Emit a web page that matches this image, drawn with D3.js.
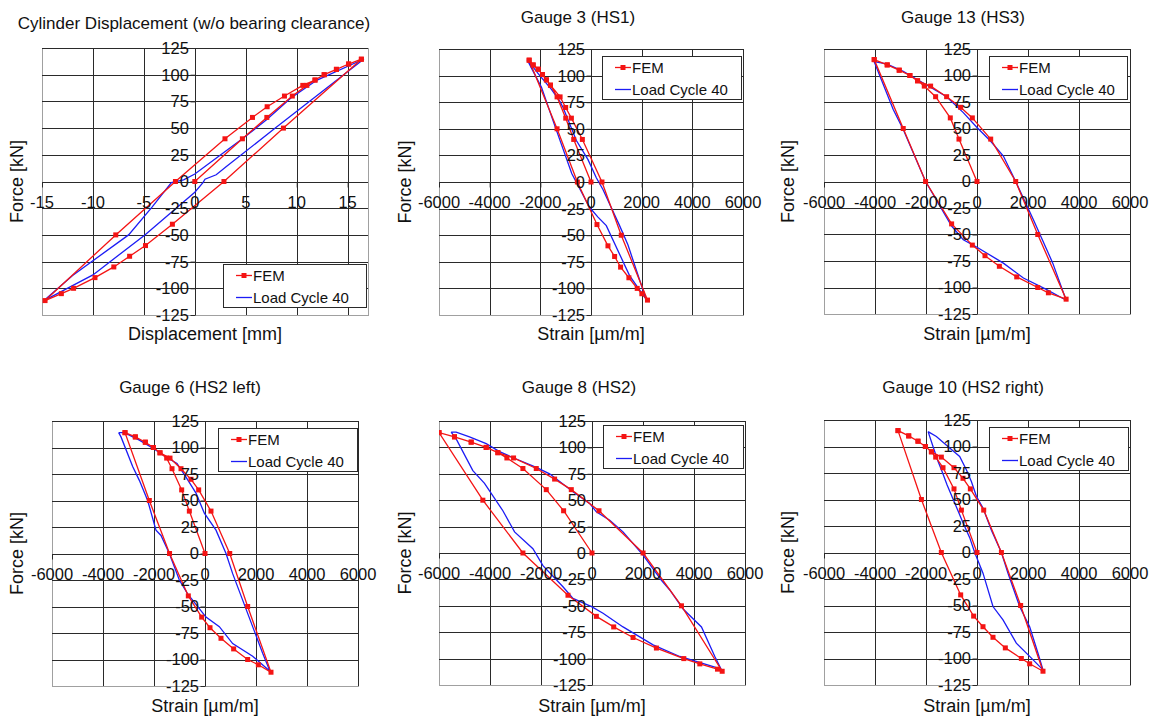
<!DOCTYPE html>
<html>
<head>
<meta charset="utf-8">
<script src="https://cdnjs.cloudflare.com/ajax/libs/d3/7.8.5/d3.min.js"></script>
<style>
  body { margin: 0; background: #fff; }
  svg { display: block; font-family: "Liberation Sans", Arial, sans-serif; }
</style>
</head>
<body>
<svg id="chart"></svg>
<script>
// ---- data ----
var forceTicks = [-125, -100, -75, -50, -25, 0, 25, 50, 75, 100, 125];
var dispTicks = [-15, -10, -5, 0, 5, 10, 15];
var strainTicks = [-6000, -4000, -2000, 0, 2000, 4000, 6000];

var titles = ['Cylinder Displacement (w/o bearing clearance)', 'Gauge 3 (HS1)', 'Gauge 13 (HS3)',
              'Gauge 6 (HS2 left)', 'Gauge 8 (HS2)', 'Gauge 10 (HS2 right)'];
var xTitles = ['Displacement [mm]', 'Strain [\u00b5m/m]', 'Strain [\u00b5m/m]',
               'Strain [\u00b5m/m]', 'Strain [\u00b5m/m]', 'Strain [\u00b5m/m]'];
var legendNames = ['FEM', 'Load Cycle 40'];

// FEM: virgin loading, unloading, reloading
var cylFem = [[0,0],[4.67,40],[7.07,60],[9.57,80],[11.0,90],[11.8,95],[12.7,100],[13.9,105],[15.1,110],[16.35,114.5],
  [8.7,50],[2.86,0],[-2.2,-40],[-4.84,-60],[-6.4,-70],[-7.95,-80],[-9.8,-90],[-11.9,-100],[-13.1,-105],[-14.7,-111.5],
  [-7.76,-50],[-1.9,0],[2.96,40],[5.66,60],[7.1,70],[8.8,80],[10.6,90],[11.8,95],[12.7,100],[13.9,105],[15.1,110],[16.35,114.5]];
var cylTest = [[16.6,114.7],[7.9,50],[3.1,14],[2.1,6.3],[1.0,2.2],[0.8,-1],[0,-10],[-4.9,-50],[-10,-87.5],[-14.8,-111.5],
  [-12,-88],[-6.5,-50],[-4.2,-24],[-2.3,-1],[-1.1,1.5],[0,7],[4.67,40],[7.07,58],[9.4,78],[12,95],[16.6,114.7]];

var g3Fem = [[0,0],[-682,40],[-997,60],[-1339,80],[-1600,91],[-1760,96],[-1916,101],[-2087,106],[-2283,110],[-2441,114.5],
  [-1340,50],[-538,0],[236,-40],[669,-60],[932,-70],[1168,-80],[1496,-90],[1824,-100],[2008,-105],[2230,-111],
  [1194,-50],[433,0],[-341,40],[-774,60],[-1000,70],[-1220,80],[-1600,91],[-1760,96],[-1916,101],[-2087,106],[-2283,110],[-2441,114.5]];
var g3Test = [[-2520,115],[-2283,104],[-1955,89],[-1430,53],[-760,8],[-52,-24],[276,-33],[604,-41],[1522,-88],[2170,-110],
  [1457,-59],[1128,-41],[472,-7],[210,4],[-118,21],[-577,39],[-1102,70],[-1234,76],[-1562,87],[-2021,100],[-2520,115]];

var g13Fem = [[0,0],[-707,40],[-1047,60],[-1623,80],[-2068,90],[-2330,95],[-2631,100],[-3050,105],[-3521,110],[-4031,115],
  [-2893,50],[-2016,0],[-995,-40],[-183,-60],[314,-70],[877,-80],[1558,-90],[2382,-100],[2800,-105],[3495,-111],
  [2382,-50],[1518,0],[537,40],[-183,60],[-641,70],[-1191,80],[-1819,90],[-2330,95],[-2631,100],[-3050,105],[-3521,110],[-4031,115]];
var g13Test = [[-4031,113],[-3285,68],[-2893,49],[-2016,0],[-995,-42],[-537,-55],[0,-62],[1034,-77],[1820,-91],[2736,-102],[3495,-112],
  [2971,-77],[2212,-36],[1518,0],[1034,24],[537,38],[0,51],[-537,65],[-1191,80],[-1976,91],[-2893,104],[-3547,111],[-4031,113]];

var g6Fem = [[0,0],[-614,40],[-915,60],[-1294,80],[-1503,90],[-1765,95],[-2026,100],[-2340,105],[-2732,110],[-3137,114],
  [-2183,50],[-1390,0],[-654,-40],[-131,-60],[196,-70],[627,-80],[1124,-90],[1673,-100],[2092,-105],[2588,-112],
  [1673,-50],[970,0],[235,40],[-248,60],[-549,70],[-941,80],[-1373,90],[-1765,95],[-2026,100],[-2340,105],[-2732,110],[-3137,114]];
var g6Test = [[-3386,114],[-3294,110],[-2837,82],[-2575,69],[-2248,50],[-1922,22],[-1725,17],[-1399,0],[-1006,-25],[-680,-38],
  [39,-60],[562,-69],[1085,-85],[1869,-97],[2549,-111],[2261,-94],[1869,-69],[1477,-44],[1085,-19],[824,0],[431,22],
  [-26,38],[-353,57],[-745,72],[-1098,85],[-1530,91],[-2026,99],[-2575,107],[-3163,114],[-3386,114]];

var g8Fem = [[0,0],[-1113,40],[-1793,60],[-2709,80],[-3338,90],[-3691,95],[-4149,100],[-4738,105],[-5393,110],[-6000,114],
  [-4280,50],[-2709,0],[-942,-40],[170,-60],[851,-70],[1610,-80],[2526,-90],[3600,-100],[4228,-105],[4921,-110],[5105,-112],
  [3508,-50],[2003,0],[275,40],[-812,60],[-1466,70],[-2186,80],[-3076,90],[-3691,95],[-4149,100],[-4738,105],[-5393,110],[-6000,114]];
var g8Test = [[-5524,114.5],[-5327,108],[-4673,78],[-4215,66],[-3495,40],[-3037,20],[-2317,4],[-1924,-12],[-1139,-32],[-746,-43],
  [0,-51],[432,-57],[1217,-70],[2395,-87],[3442,-98],[4817,-108],[5105,-112],
  [4817,-98],[4293,-70],[3573,-53],[3050,-35],[2723,-26],[2003,-2],[1217,20],[694,31],[170,39],[-92,47],[-746,58],
  [-1662,75],[-2186,81],[-2971,89],[-3626,96],[-4149,103.5],[-4804,110],[-5327,114.5],[-5524,114.5]];

var g10Fem = [[0,0],[-612,40],[-902,60],[-1333,80],[-1620,90],[-1788,95],[-2024,100],[-2314,105],[-2678,110],[-3098,115],
  [-2180,50],[-1399,0],[-640,-40],[-131,-60],[235,-70],[627,-80],[1111,-90],[1739,-100],[2065,-105],[2588,-112],
  [1712,-50],[957,0],[263,40],[-261,60],[-549,70],[-902,80],[-1398,90],[-1788,95],[-2024,100],[-2314,105],[-2678,110],[-3098,115]];
var g10Test = [[-1918,114],[-1725,100],[-1529,86],[-1396,78],[-1176,64],[-808,43],[-549,28],[-286,14],[-90,0],[235,-19.5],
  [627,-51],[1020,-63.5],[1542,-85.5],[2065,-98],[2588,-110.7],[2392,-95],[2065,-70],[1673,-51],[1216,-19.5],[957,0],
  [565,21],[235,42],[-24,53],[-221,67],[-418,78],[-680,90.6],[-1071,98.5],[-1593,109.4],[-1918,114]];

// ---- layout ----
var W = 1153, H = 716;
var svg = d3.select('#chart').attr('width', W).attr('height', H);
svg.append('rect').attr('width', W).attr('height', H).attr('fill', '#fff');

var panels = [
  {fem: cylFem, test: cylTest, xd: [-15, 17], xt: dispTicks, x0: 42, x1: 368, y0: 48, y1: 315, ty: 29, tx: 194, yl: 17, xl: 340, leg: [223, 264, 143]},
  {fem: g3Fem, test: g3Test, xd: [-6000, 6000], xt: strainTicks, x0: 439, x1: 743, y0: 49, y1: 315, ty: 23, tx: 578, yl: 405, xl: 340, leg: [602, 56, 139]},
  {fem: g13Fem, test: g13Test, xd: [-6000, 6000], xt: strainTicks, x0: 824, x1: 1130, y0: 49, y1: 314, ty: 23, tx: 963, yl: 788, xl: 340, leg: [989, 56, 138]},
  {fem: g6Fem, test: g6Test, xd: [-6000, 6000], xt: strainTicks, x0: 52, x1: 358, y0: 421, y1: 686, ty: 393, tx: 190, yl: 17, xl: 712, leg: [218, 428, 139]},
  {fem: g8Fem, test: g8Test, xd: [-6000, 6000], xt: strainTicks, x0: 439, x1: 745, y0: 421, y1: 685, ty: 393, tx: 579, yl: 405, xl: 712, leg: [603, 425, 140]},
  {fem: g10Fem, test: g10Test, xd: [-6000, 6000], xt: strainTicks, x0: 824, x1: 1130, y0: 420, y1: 685, ty: 393, tx: 963, yl: 788, xl: 712, leg: [989, 427, 139]}
];

var red = '#f41414', blue = '#1c1cf5';

panels.forEach(function(p, i){
  var x = d3.scaleLinear().domain(p.xd).range([p.x0, p.x1]);
  var y = d3.scaleLinear().domain([-125, 125]).range([p.y1, p.y0]);
  var g = svg.append('g');

  // plot border
  g.append('rect')
    .attr('x', p.x0 + 0.5).attr('y', p.y0 + 0.5)
    .attr('width', p.x1 - p.x0).attr('height', p.y1 - p.y0)
    .attr('fill', 'none').attr('stroke', '#a0a0a0');

  // gridlines
  g.selectAll('.hg').data(forceTicks.filter(function(t){ return t > -125; }))
    .enter().append('line')
    .attr('x1', p.x0).attr('x2', p.x1)
    .attr('y1', function(d){ return Math.round(y(d)) + 0.5; })
    .attr('y2', function(d){ return Math.round(y(d)) + 0.5; })
    .attr('stroke', '#2a2a2a');
  g.selectAll('.vg').data(p.xt.filter(function(t){ return t > p.xd[0]; }))
    .enter().append('line')
    .attr('y1', p.y0).attr('y2', p.y1)
    .attr('x1', function(d){ return Math.round(x(d)) + 0.5; })
    .attr('x2', function(d){ return Math.round(x(d)) + 0.5; })
    .attr('stroke', '#2a2a2a');

  // axes crossing at zero
  var ax = d3.axisLeft(y).tickValues(forceTicks).tickSize(5).tickFormat('');
  g.append('g').attr('transform', 'translate(' + (Math.round(x(0)) + 0.5) + ',0)').call(ax)
    .call(function(s){ s.select('.domain').remove(); s.selectAll('line').attr('stroke', '#2a2a2a'); });
  var bx = d3.axisBottom(x).tickValues(p.xt).tickSize(5).tickFormat('');
  g.append('g').attr('transform', 'translate(0,' + (Math.round(y(0)) + 0.5) + ')').call(bx)
    .call(function(s){ s.select('.domain').remove(); s.selectAll('line').attr('stroke', '#2a2a2a'); });

  // series
  var clipId = 'clip' + i;
  svg.append('clipPath').attr('id', clipId).append('rect')
    .attr('x', p.x0).attr('y', p.y0).attr('width', p.x1 - p.x0 + 1).attr('height', p.y1 - p.y0 + 1);
  var line = d3.line().x(function(d){ return x(d[0]); }).y(function(d){ return y(d[1]); });
  var s = g.append('g').attr('clip-path', 'url(#' + clipId + ')');
  s.append('path').datum(p.test).attr('d', line)
    .attr('fill', 'none').attr('stroke', blue).attr('stroke-width', 1.3);
  s.append('path').datum(p.fem).attr('d', line)
    .attr('fill', 'none').attr('stroke', red).attr('stroke-width', 1.3);
  s.selectAll('.mk').data(p.fem).enter().append('rect')
    .attr('x', function(d){ return x(d[0]) - 2.5; })
    .attr('y', function(d){ return y(d[1]) - 2.5; })
    .attr('width', 5).attr('height', 5).attr('fill', red);

  // tick labels
  g.selectAll('.yl').data(forceTicks).enter().append('text')
    .attr('x', x(0) - 6).attr('y', function(d){ return y(d); })
    .attr('dy', '0.36em').attr('text-anchor', 'end')
    .style('font-size', '16.5px').attr('fill', '#111')
    .text(function(d){ return d; });
  g.selectAll('.xl').data(p.xt).enter().append('text')
    .attr('x', function(d){ return x(d); }).attr('y', y(0) + 26)
    .attr('text-anchor', 'middle')
    .style('font-size', '16.5px').attr('fill', '#111')
    .text(function(d){ return d; });

  // titles
  g.append('text').attr('x', p.tx).attr('y', p.ty).attr('text-anchor', 'middle')
    .style('font-size', '17px').attr('fill', '#111').text(titles[i]);
  g.append('text').attr('x', (p.x0 + p.x1) / 2).attr('y', p.xl).attr('text-anchor', 'middle')
    .style('font-size', '18px').attr('fill', '#111').text(xTitles[i]);
  g.append('text').attr('transform', 'translate(' + (p.yl + 6) + ',' + (p.y0 + p.y1) / 2 + ') rotate(-90)')
    .attr('text-anchor', 'middle').style('font-size', '18px').attr('fill', '#111').text('Force [kN]');

  // legend
  var lg = g.append('g').attr('transform', 'translate(' + p.leg[0] + ',' + p.leg[1] + ')');
  lg.append('rect').attr('x', 0.5).attr('y', 0.5).attr('width', p.leg[2]).attr('height', 43)
    .attr('fill', '#fff').attr('stroke', '#2a2a2a');
  [red, blue].forEach(function(c, k){
    var yy = 11.5 + k * 22;
    lg.append('line').attr('x1', 13).attr('x2', 29).attr('y1', yy).attr('y2', yy)
      .attr('stroke', c).attr('stroke-width', 1.3);
    if (k === 0) lg.append('rect').attr('x', 18.5).attr('y', yy - 2.5).attr('width', 5).attr('height', 5).attr('fill', c);
    lg.append('text').attr('x', 30).attr('y', yy).attr('dy', '0.36em')
      .style('font-size', '15px').attr('fill', '#111').text(legendNames[k]);
  });
});
</script>
</body>
</html>
